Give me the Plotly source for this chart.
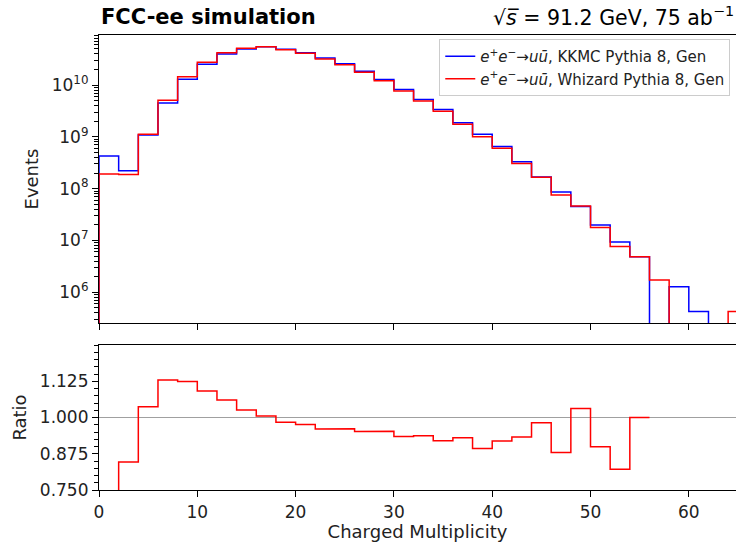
import numpy as np
import plotly.graph_objects as go

# ---- data ----
bin_edges = list(range(0, 68, 2))  # 0..66, 33 bins of width 2

kkmc_events = [4.26e8, 2.22e8, 1.08e9, 4.50e9, 1.29e10, 2.51e10, 3.97e10, 4.97e10,
               5.47e10, 4.88e10, 4.19e10, 3.31e10, 2.57e10, 1.85e10, 1.27e10, 8.20e9,
               5.24e9, 3.37e9, 1.87e9, 1.12e9, 6.53e8, 3.29e8, 1.68e8, 8.60e7,
               4.50e7, 1.98e7, 9.30e6, 4.84e6, 0.0, 1.28e6, 4.27e5, 0.0, 0.0]

whizard_events = [1.91e8, 1.88e8, 1.12e9, 5.08e9, 1.45e10, 2.74e10, 4.21e10, 5.10e10,
                  5.50e10, 4.80e10, 4.09e10, 3.18e10, 2.47e10, 1.76e10, 1.21e10, 7.66e9,
                  4.91e9, 3.10e9, 1.74e9, 1.00e9, 6.00e8, 3.07e8, 1.65e8, 7.56e7,
                  4.64e7, 1.78e7, 7.64e6, 4.84e6, 1.72e6, 0.0, 0.0, 0.0, 4.27e5]

log_tick_exponents = [6, 7, 8, 9, 10]
ratio_ticks = [0.750, 0.875, 1.000, 1.125]
x_ticks = [0, 10, 20, 30, 40, 50, 60]

label_kkmc = "<i>e</i><sup>+</sup><i>e</i><sup>−</sup>→<i>u</i><i>ū</i>, KKMC Pythia 8, Gen"
label_whiz = "<i>e</i><sup>+</sup><i>e</i><sup>−</sup>→<i>u</i><i>ū</i>, Whizard Pythia 8, Gen"

# ---- helpers ----
FLOOR = 1.0  # far below the visible log range, used for empty bins


def hist_step(edges, vals):
    xs, ys = [edges[0]], [FLOOR]
    for i, v in enumerate(vals):
        v = v if v > 0 else FLOOR
        xs += [edges[i], edges[i + 1]]
        ys += [v, v]
    xs.append(edges[-1])
    ys.append(FLOOR)
    return xs, ys


def ratio_step(edges, num, den):
    xs, ys = [], []
    for i, (n, d) in enumerate(zip(num, den)):
        if d > 0:
            r = n / d
            xs += [edges[i], edges[i + 1]]
            ys += [r, r]
        else:
            xs.append(None)
            ys.append(None)
    return xs, ys


FONT = "DejaVu Sans"
W, H = 736, 545
ML, MR, MT, MB = 99, 0, 35, 55
PH = H - MT - MB


def py(pix):  # pixel y -> paper y
    return (H - MB - pix) / PH


fig = go.Figure()

bx, by = hist_step(bin_edges, kkmc_events)
rx, ry = hist_step(bin_edges, whizard_events)
fig.add_trace(go.Scatter(x=bx, y=by, mode="lines", name=label_kkmc,
                         line=dict(color="blue", width=1.5), xaxis="x", yaxis="y"))
fig.add_trace(go.Scatter(x=rx, y=ry, mode="lines", name=label_whiz,
                         line=dict(color="red", width=1.5), xaxis="x", yaxis="y"))

qx, qy = ratio_step(bin_edges, whizard_events, kkmc_events)
fig.add_trace(go.Scatter(x=qx, y=qy, mode="lines", showlegend=False, connectgaps=False,
                         line=dict(color="red", width=1.5), xaxis="x2", yaxis="y2"))

minor_log = [d * 10 ** k for k in range(5, 11) for d in range(2, 10)]

axis_common = dict(showline=True, linecolor="black", linewidth=1.2, mirror=True,
                   ticks="outside", ticklen=6, tickwidth=1.2, tickcolor="black",
                   showgrid=False, zeroline=False,
                   tickfont=dict(family=FONT, size=17, color="#222222"))

fig.update_layout(
    width=W, height=H,
    margin=dict(l=ML, r=MR, t=MT, b=MB),
    paper_bgcolor="white", plot_bgcolor="white",
    font=dict(family=FONT, color="black"),
    xaxis=dict(domain=[0, 1], range=[0, 64.8], anchor="y", tickvals=x_ticks,
               showticklabels=False, matches="x2", **axis_common),
    yaxis=dict(domain=[py(323), 1], type="log", range=[5.407, 10.965], anchor="x",
               tickvals=[10 ** e for e in log_tick_exponents],
               ticktext=[f"10<sup>{e}</sup>" for e in log_tick_exponents],
               minor=dict(tickvals=minor_log, ticks="outside", ticklen=3.5,
                          tickcolor="black", tickwidth=1),
               title=dict(text="Events", font=dict(family=FONT, size=18, color="#222222"),
                          standoff=8),
               **axis_common),
    xaxis2=dict(domain=[0, 1], range=[0, 64.8], anchor="y2", tickvals=x_ticks,
                title=dict(text="Charged Multiplicity",
                           font=dict(family=FONT, size=18, color="#222222"), standoff=4),
                **axis_common),
    yaxis2=dict(domain=[0, py(345)], range=[0.75, 1.25], anchor="x2",
                tickvals=ratio_ticks, ticktext=[f"{v:.3f}" for v in ratio_ticks],
                minor=dict(dtick=0.025, tick0=0.75, ticks="outside", ticklen=3.5,
                           tickcolor="black", tickwidth=1),
                title=dict(text="Ratio", font=dict(family=FONT, size=18, color="#222222"),
                           standoff=8),
                **axis_common),
    legend=dict(x=0.991, xanchor="right", y=py(39), yanchor="top",
                bgcolor="rgba(255,255,255,0.8)", bordercolor="#cccccc", borderwidth=1,
                font=dict(family=FONT, size=15, color="#222222"),
                tracegroupgap=0, itemwidth=30),
    shapes=[dict(type="line", xref="x2 domain", x0=0, x1=1, yref="y2", y0=1.0, y1=1.0,
                 line=dict(color="#a0a0a0", width=1), layer="below")],
    annotations=[
        dict(text="<b>FCC-ee simulation</b>", xref="paper", yref="paper", x=0, y=py(17),
             xanchor="left", yanchor="middle", showarrow=False,
             font=dict(family=FONT, size=21, color="black")),
        dict(text="√<i>s\u0305</i> = 91.2 GeV, 75 ab<sup>−1</sup>", xref="paper", yref="paper",
             x=1, y=py(17), xanchor="right", yanchor="middle", showarrow=False,
             font=dict(family=FONT, size=20.5, color="black")),
    ],
)

fig.write_html("out.html")
